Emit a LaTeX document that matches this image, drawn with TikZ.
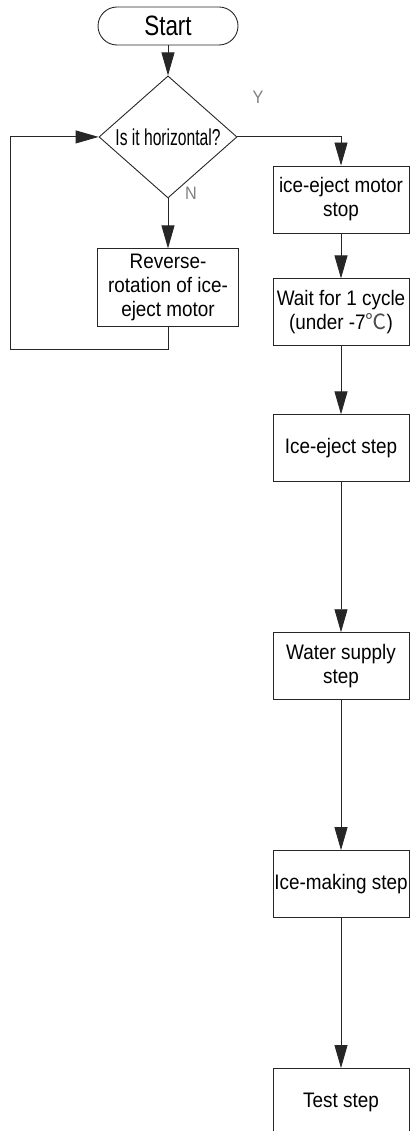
\documentclass[tikz,border=0pt]{standalone}
\usepackage{fontspec}
\setmainfont{Liberation Sans}[FakeStretch=0.9]
\newfontfamily\startfont{Liberation Sans}[FakeStretch=0.8]
\newfontfamily\diafont{Liberation Sans}[FakeStretch=0.68]
\newfontfamily\cjk{Noto Sans CJK SC}
\usetikzlibrary{positioning, arrows.meta, shapes.geometric}

\begin{document}
\begin{tikzpicture}[
    x=1pt, y=1pt,
    node distance=30pt,
    tile/.style={draw=black!85, line width=0.9pt, inner sep=0pt, align=center,
                 font=\fontsize{21}{24}\selectfont},
    term/.style={tile, minimum width=140pt, minimum height=38pt, rounded corners=19pt,
                 font=\startfont\fontsize{28}{32}\selectfont},
    decide/.style={tile, diamond, minimum width=138pt, minimum height=93pt,
                   font=\diafont\fontsize{23}{26}\selectfont},
    stepbox/.style={tile, minimum width=141pt, minimum height=78pt},
    rbox/.style={tile, minimum width=136pt, minimum height=67pt},
    arrow/.style={-{Triangle[length=23pt, width=13pt]}, draw=black!85, line width=0.9pt},
    label/.style={font=\fontsize{18}{20}\selectfont, text=black!50}
]
\useasboundingbox (0,0) rectangle (410,-1131);
\clip (0,0) rectangle (410,-1131);

% left column
\node[term] (start) at (168,-26) {Start};
\node[decide, below=30pt of start] (dia) {Is it horizontal?};
\node[stepbox, below=50pt of dia] (rev) {Reverse-\\rotation of ice-\\eject motor};

% right column
\node[rbox] (stop) at (341,-199.5) {ice-eject motor\\stop};
\node[rbox, below=45pt of stop] (wait) {Wait for 1 cycle\\(under -7{\cjk\color{black!70}℃})};
\node[rbox, below=68pt of wait] (eject) {Ice-eject step};
\node[rbox, below=150pt of eject] (water) {Water supply\\step};
\node[rbox, below=150pt of water] (making) {Ice-making step};
\node[rbox, below=150pt of making] (test) {Test step};

\node[label] (ylbl) at (258,-97) {Y};
\node[label] (nlbl) at (191,-193) {N};

\draw[arrow] (start) -- (dia);
\draw[arrow] (dia) -- (rev);
\draw[arrow] (rev.south) -- ++(0,-22) -| ([xshift=-88pt]dia.west) -- (dia.west);
\draw[arrow] (dia.east) -| (stop.north);
\draw[arrow] (stop) -- (wait);
\draw[arrow] (wait) -- (eject);
\draw[arrow] (eject) -- (water);
\draw[arrow] (water) -- (making);
\draw[arrow] (making) -- (test);
\end{tikzpicture}
\end{document}
